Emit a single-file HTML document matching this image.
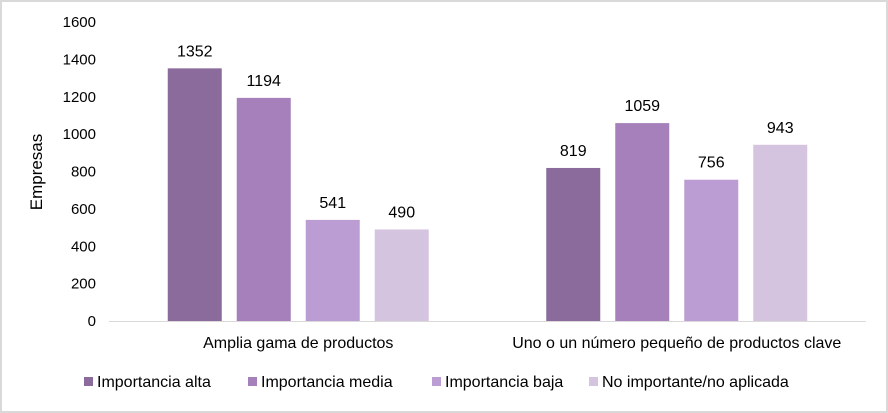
<!DOCTYPE html>
<html><head><meta charset="utf-8"><style>
body{margin:0;background:#fff;}
svg{display:block;font-family:"Liberation Sans",sans-serif;}
</style></head><body>
<svg id="c" width="888" height="413">
<rect x="1" y="1" width="886" height="411" fill="#fff" stroke="#d9d9d9" stroke-width="2"/>
<text x="42" y="172" transform="rotate(-90 42 172)" text-anchor="middle" font-size="17" fill="#000">Empresas</text>
</svg>
<script>
const categories=["Amplia gama de productos","Uno o un número pequeño de productos clave"];
const seriesNames=["Importancia alta","Importancia media","Importancia baja","No importante/no aplicada"];
const alta=[1352,819];
const media=[1194,1059];
const baja=[541,756];
const noImp=[490,943];
const yTicks=[0,200,400,600,800,1000,1200,1400,1600];
const colors=["#8b6a9c","#a580bb","#bc9dd3","#d5c4e0"];
const series=[alta,media,baja,noImp];
const svg=document.getElementById('c');
const NS="http://www.w3.org/2000/svg";
const x0=109,x1=866,yBase=321,yTop=22,yMax=1600;
const y=v=>yBase-(v/yMax)*(yBase-yTop);
const catW=(x1-x0)/categories.length;
const bw=54,gap=15;
function mk(t,a){const e=document.createElementNS(NS,t);for(const k in a)e.setAttribute(k,a[k]);svg.appendChild(e);return e;}
yTicks.forEach(t=>{
 const e=mk('text',{x:96,y:y(t)+5,'text-anchor':'end','font-size':15,fill:'#000'});
 e.textContent=t;
 
 
});
const ax=mk('line',{x1:x0,x2:x1,y1:yBase+0.5,y2:yBase+0.5,stroke:'#d9d9d9','stroke-width':1});


categories.forEach((c,ci)=>{
 const cx=x0+catW*(ci+0.5);
 const total=series.length*bw+(series.length-1)*gap;
 series.forEach((s,si)=>{
  const bx=cx-total/2+si*(bw+gap);
  const r=mk('rect',{x:bx,y:y(s[ci]),width:bw,height:yBase-y(s[ci]),fill:colors[si]});
  
  
  const l=mk('text',{x:bx+bw/2,y:y(s[ci])-12,'text-anchor':'middle','font-size':16,fill:'#000'});
  l.textContent=s[ci];
  
  
 });
 const t=mk('text',{x:cx,y:348,'text-anchor':'middle','font-size':16,fill:'#000'});
 t.textContent=c;
 
 
});
const lx=[84,248,432,589];
seriesNames.forEach((n,i)=>{
 const r=mk('rect',{x:lx[i],y:377,width:9,height:9,fill:colors[i]});
 
 
 const t=mk('text',{x:lx[i]+13,y:387,'font-size':16,fill:'#000'});
 t.textContent=n;
 
 
});
</script>
</body></html>
